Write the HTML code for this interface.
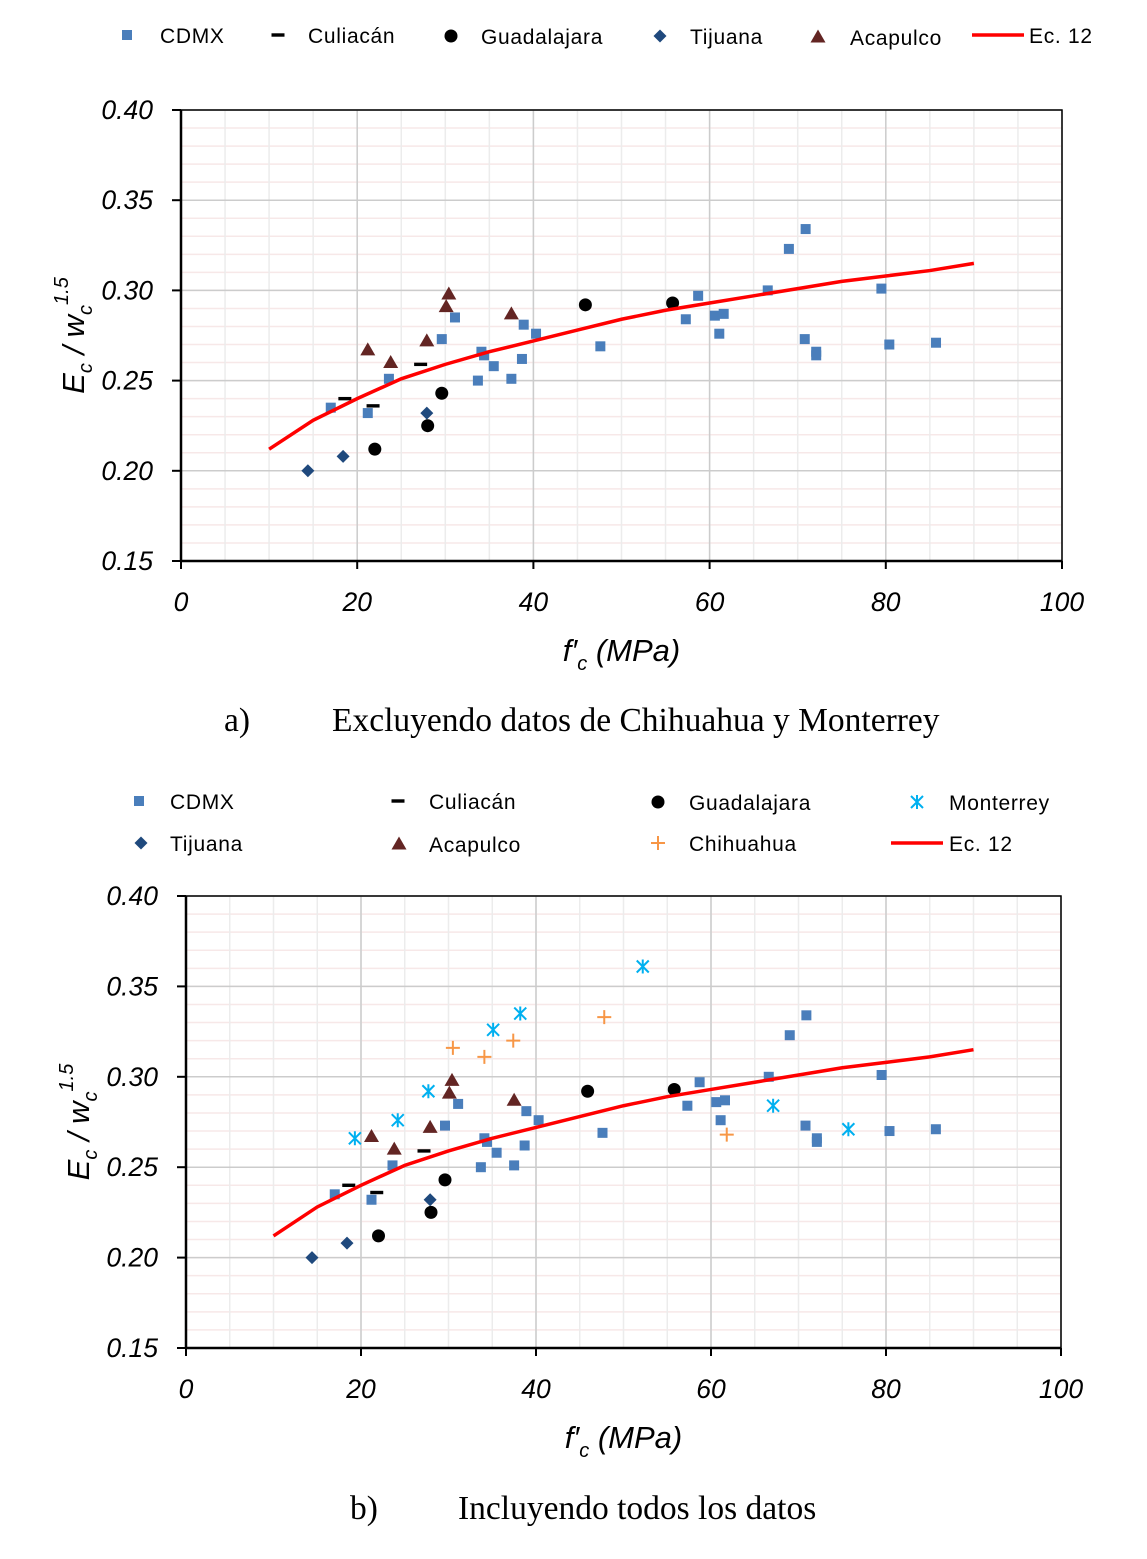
<!DOCTYPE html>
<html><head><meta charset="utf-8"><style>
body{margin:0;background:#fff;width:1147px;height:1559px;overflow:hidden}
svg{position:absolute;left:0;top:0}
</style></head><body>
<svg id="s" width="1147" height="1559" xmlns="http://www.w3.org/2000/svg" font-family="Liberation Sans, sans-serif"></svg>
<script>
// ---- data ----
const cdmxX=[17.0,21.2,23.6,29.6,31.1,33.7,34.1,34.4,35.5,37.5,38.7,38.9,40.3,47.6,57.3,58.7,60.6,61.6,61.1,66.6,69.0,70.9,70.8,72.1,72.1,79.5,80.4,85.7];
const cdmxY=[0.235,0.232,0.251,0.273,0.285,0.250,0.266,0.264,0.258,0.251,0.262,0.281,0.276,0.269,0.284,0.297,0.286,0.287,0.276,0.300,0.323,0.334,0.273,0.266,0.264,0.301,0.270,0.271];
const culX=[18.6,21.8,27.2];
const culY=[0.240,0.236,0.259];
const guaX=[22.0,28.0,29.6,45.9,55.8];
const guaY=[0.212,0.225,0.243,0.292,0.293];
const tijX=[14.4,18.4,27.9];
const tijY=[0.200,0.208,0.232];
const acaX=[21.2,23.8,27.9,30.1,30.4,37.5];
const acaY=[0.267,0.260,0.272,0.291,0.298,0.287];
const monX=[19.3,24.2,27.7,35.1,38.2,52.2,67.1,75.7];
const monY=[0.266,0.276,0.292,0.326,0.335,0.361,0.284,0.271];
const chiX=[30.5,34.1,37.4,47.8,61.8];
const chiY=[0.316,0.311,0.320,0.333,0.268];
const ecX=[10,15,20,25,30,35,40,45,50,55,60,65,70,75,80,85,90];
const ecY=[0.212,0.228,0.240,0.251,0.259,0.266,0.272,0.278,0.284,0.289,0.293,0.297,0.301,0.305,0.308,0.311,0.315];
const xTicks=[0,20,40,60,80,100];
const yTicks=[0.15,0.20,0.25,0.30,0.35,0.40];

const S=document.getElementById('s');
const NS='http://www.w3.org/2000/svg';
function mk(t,a,p,txt){const e=document.createElementNS(NS,t);for(const k in a)e.setAttribute(k,a[k]);if(txt!==undefined)e.textContent=txt;(p||S).appendChild(e);return e;}

function marker(g,type,cx,cy){
  let e;
  if(type==='sq'){e=mk('rect',{x:cx-5,y:cy-5,width:10,height:10,fill:'#4a7ebb'},g);}
  else if(type==='dash'){e=mk('rect',{x:cx-6.5,y:cy-1.7,width:13,height:3.4,fill:'#000'},g);}
  else if(type==='dot'){e=mk('circle',{cx:cx,cy:cy,r:6.5,fill:'#000'},g);}
  else if(type==='dia'){e=mk('path',{d:`M${cx} ${cy-6.5}L${cx+6.5} ${cy}L${cx} ${cy+6.5}L${cx-6.5} ${cy}Z`,fill:'#1f497d'},g);}
  else if(type==='tri'){e=mk('path',{d:`M${cx} ${cy-7.5}L${cx+7.5} ${cy+5.5}L${cx-7.5} ${cy+5.5}Z`,fill:'#632523'},g);}
  else if(type==='plus'){e=mk('path',{d:`M${cx-7} ${cy}H${cx+7}M${cx} ${cy-7}V${cy+7}`,stroke:'#f79646','stroke-width':2,fill:'none'},g);}
  else if(type==='star'){e=mk('path',{d:`M${cx-6} ${cy-6}L${cx+6} ${cy+6}M${cx+6} ${cy-6}L${cx-6} ${cy+6}M${cx} ${cy-7}V${cy+7}`,stroke:'#00b0f0','stroke-width':2,fill:'none'},g);}
  return e;
}

function chart(id,L,R,T,B,full){
  const g=mk('g',{});
  
  
  const xs=v=>L+(v-0)/100*(R-L);
  const ys=v=>B-(v-0.15)/0.25*(B-T);
  for(let v=0.15;v<0.4001;v+=0.01){mk('line',{x1:L,x2:R,y1:ys(v),y2:ys(v),stroke:'#f7e8e8','stroke-width':1.5},g);}
  for(let v=0;v<=100;v+=5){mk('line',{x1:xs(v),x2:xs(v),y1:T,y2:B,stroke:'#ececec','stroke-width':1.5},g);}
  xTicks.forEach(v=>mk('line',{x1:xs(v),x2:xs(v),y1:T,y2:B,stroke:'#cccccc','stroke-width':1.5},g));
  yTicks.forEach(v=>mk('line',{x1:L,x2:R,y1:ys(v),y2:ys(v),stroke:'#cccccc','stroke-width':1.5},g));
  mk('rect',{x:L,y:T,width:R-L,height:B-T,fill:'none',stroke:'#000','stroke-width':1.5},g);
  mk('line',{x1:L,x2:L,y1:T,y2:B,stroke:'#000','stroke-width':2.5},g);
  mk('line',{x1:L,x2:R,y1:B,y2:B,stroke:'#000','stroke-width':2.5},g);
  yTicks.forEach(v=>{
    mk('line',{x1:L-9,x2:L,y1:ys(v),y2:ys(v),stroke:'#000','stroke-width':2},g);
    const t=mk('text',{x:L-28,y:ys(v)+9,'text-anchor':'end','font-size':26.5,'font-style':'italic'},g,v.toFixed(2));
    
    
  });
  xTicks.forEach(v=>{
    mk('line',{x1:xs(v),x2:xs(v),y1:B,y2:B+8,stroke:'#000','stroke-width':2},g);
    const t=mk('text',{x:xs(v),y:B+50,'text-anchor':'middle','font-size':26.5,'font-style':'italic'},g,String(v));
    
    
  });
  const xt=mk('text',{x:(L+R)/2,y:B+100,'text-anchor':'middle','font-size':31,'font-style':'italic'},g);
  
  
  xt.innerHTML='f\u2032<tspan font-size="20" dy="9">c</tspan><tspan dy="-9"> (MPa)</tspan>';
  const yt=mk('text',{transform:`translate(${L-97},${(T+B)/2}) rotate(-90)`,'text-anchor':'middle','font-size':31,'font-style':'italic'},g);
  
  
  yt.innerHTML='E<tspan font-size="20" dy="8">c</tspan><tspan dy="-8"> / w</tspan><tspan font-size="20" dy="8">c</tspan><tspan font-size="20" dy="-24">1.5</tspan>';
  function series(name,X,Y,type){
    const sg=mk('g',{},g);
    
    
    X.forEach((x,i)=>{const m=marker(sg,type,xs(x),ys(Y[i]));
      
      });
  }
  series('cdmx',cdmxX,cdmxY,'sq');
  series('culiacan',culX,culY,'dash');
  series('guadalajara',guaX,guaY,'dot');
  series('tijuana',tijX,tijY,'dia');
  series('acapulco',acaX,acaY,'tri');
  if(full){series('monterrey',monX,monY,'star');series('chihuahua',chiX,chiY,'plus');}
  const ln=mk('polyline',{points:ecX.map((x,i)=>xs(x)+','+ys(ecY[i])).join(' '),fill:'none',stroke:'#ff0000','stroke-width':3.5},g);
  
  
}
chart('a',181,1062,110,561,false);
chart('b',186,1061,896,1348,true);

function legend(items){
  const g=mk('g',{});
  
  
  items.forEach(it=>{
    const eg=mk('g',{},g);
    
    
    if(it.t==='line')mk('line',{x1:it.x-26,x2:it.x+26,y1:it.y,y2:it.y,stroke:'#ff0000','stroke-width':3.5},eg);
    else marker(eg,it.t,it.x,it.y);
    mk('text',{x:it.tx,y:it.y+8,'font-size':21,'letter-spacing':'0.7'},eg,it.n);
  });
}
legend([
 {t:'sq',x:127,y:35,tx:160,n:'CDMX'},
 {t:'dash',x:278,y:35,tx:308,n:'Culiacán'},
 {t:'dot',x:451,y:36,tx:481,n:'Guadalajara'},
 {t:'dia',x:660,y:36,tx:690,n:'Tijuana'},
 {t:'tri',x:818,y:37,tx:850,n:'Acapulco'},
 {t:'line',x:998,y:35,tx:1029,n:'Ec. 12'}
]);
legend([
 {t:'sq',x:139,y:801,tx:170,n:'CDMX'},
 {t:'dash',x:398,y:801,tx:429,n:'Culiacán'},
 {t:'dot',x:658,y:802,tx:689,n:'Guadalajara'},
 {t:'star',x:917,y:802,tx:949,n:'Monterrey'},
 {t:'dia',x:141,y:843,tx:170,n:'Tijuana'},
 {t:'tri',x:399,y:844,tx:429,n:'Acapulco'},
 {t:'plus',x:658,y:843,tx:689,n:'Chihuahua'},
 {t:'line',x:917,y:843,tx:949,n:'Ec. 12'}
]);
const c1=mk('text',{x:224,y:731,'font-size':33.5,'font-family':'Liberation Serif, serif'},S,'a)');


const c2=mk('text',{x:332,y:731,'font-size':33.5,'font-family':'Liberation Serif, serif'},S,'Excluyendo datos de Chihuahua y Monterrey');


const c3=mk('text',{x:350,y:1519,'font-size':33.5,'font-family':'Liberation Serif, serif'},S,'b)');


const c4=mk('text',{x:458,y:1519,'font-size':33.5,'font-family':'Liberation Serif, serif'},S,'Incluyendo todos los datos');


</script>
</body></html>
